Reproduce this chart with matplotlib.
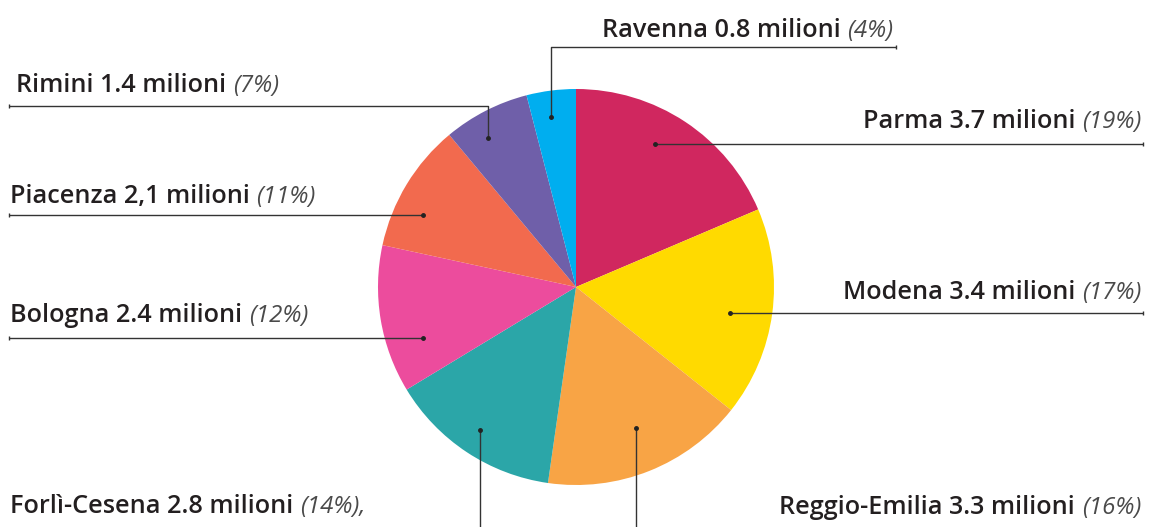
import matplotlib
matplotlib.use("Agg")
import matplotlib.pyplot as plt

# ---- data ----
cities = ["Parma", "Modena", "Reggio-Emilia", "Forlì-Cesena", "Bologna", "Piacenza", "Rimini", "Ravenna"]
values = [3.7, 3.4, 3.3, 2.8, 2.4, 2.1, 1.4, 0.8]
value_labels = ["3.7", "3.4", "3.3", "2.8", "2.4", "2,1", "1.4", "0.8"]
percents = ["19%", "17%", "16%", "14%", "12%", "11%", "7%", "4%"]
colors = ["#D0275F", "#FFDA00", "#F8A445", "#2BA6A8", "#EC4C9D", "#F26A4E", "#6F5FA9", "#00AEEF"]

W, H = 1151, 527
fig = plt.figure(figsize=(W / 100, H / 100), dpi=100)
ax = fig.add_axes([0, 0, 1, 1])

cx, cy, R = 576, 287, 198
ax.pie(values, colors=colors, startangle=-90, counterclock=True,
       center=(cx, cy), radius=R, frame=True,
       wedgeprops=dict(linewidth=0))
ax.set_xlim(0, W)
ax.set_ylim(H, 0)
ax.set_aspect("equal")
ax.axis("off")

# layout of leaders: path points (dot first) and text (x, baseline y, alignment)
leaders = {
    "Ravenna": ([(551, 117), (551, 47), (896, 47)], (893, 37, "right")),
    "Rimini": ([(488, 138), (488, 106), (9, 106)], (16, 92, "left")),
    "Parma": ([(655, 144), (1143, 144)], (1141, 128, "right")),
    "Piacenza": ([(423, 215), (9, 215)], (10, 203, "left")),
    "Modena": ([(730, 313), (1143, 313)], (1141, 299, "right")),
    "Bologna": ([(423, 338), (9, 338)], (10, 322, "left")),
    "Forlì-Cesena": ([(480, 430), (480, 540)], (10, 513, "left")),
    "Reggio-Emilia": ([(636, 428), (636, 540)], (1141, 514, "right")),
}

FS = 18.2
main_font = dict(family=["Open Sans", "DejaVu Sans"], fontsize=FS, fontweight=600, color="#231F20")
pct_font = dict(family=["Open Sans", "DejaVu Sans"], fontsize=FS * 0.95, fontstyle="italic", fontweight="normal", color="#4A4A4A")

fig.canvas.draw()
renderer = fig.canvas.get_renderer()

for city, val, pct in zip(cities, value_labels, percents):
    pts, (tx, ty, align) = leaders[city]
    xs = [p[0] for p in pts]
    ys = [p[1] for p in pts]
    ax.plot(xs, ys, color="#333333", lw=1.0, solid_capstyle="butt", zorder=5)
    ax.plot([xs[0]], [ys[0]], "o", color="#222222", ms=2.5, zorder=6)
    if ys[-1] < H:
        ax.plot([xs[-1]], [ys[-1]], "|", color="#333333", ms=3, mew=1, zorder=6)

    main = f"{city} {val} milioni "
    pct_txt = f"({pct})" + ("," if city == "Forlì-Cesena" else "")
    if align == "left":
        t1 = ax.text(tx, ty, main, ha="left", va="baseline", **main_font)
        bb = t1.get_window_extent(renderer)
        x_end = ax.transData.inverted().transform((bb.x1, 0))[0]
        ax.text(x_end, ty, pct_txt, ha="left", va="baseline", **pct_font)
    else:
        t2 = ax.text(tx, ty, pct_txt, ha="right", va="baseline", **pct_font)
        bb = t2.get_window_extent(renderer)
        x_start = ax.transData.inverted().transform((bb.x0, 0))[0]
        ax.text(x_start, ty, main, ha="right", va="baseline", **main_font)

fig.savefig("out.png", dpi=100)
